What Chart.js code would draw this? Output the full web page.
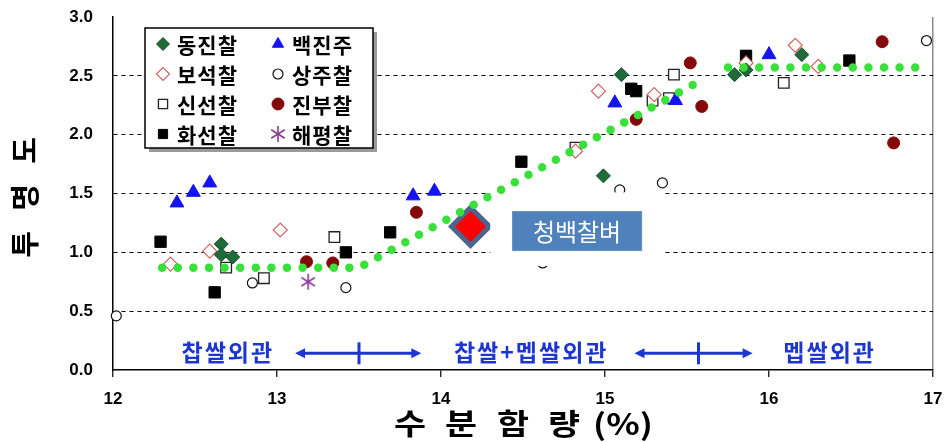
<!DOCTYPE html>
<html>
<head>
<meta charset="utf-8">
<script src="https://cdn.jsdelivr.net/npm/chart.js@4.4.1/dist/chart.umd.min.js"></script>
<style>
  html, body { margin: 0; padding: 0; background: #fff; }
  #wrap { width: 949px; height: 442px; }
</style>
</head>
<body>
<div id="wrap"><canvas id="chart" width="949" height="442"></canvas></div>
<script>
// axis ranges and ticks
const xMin = 12, xMax = 17;
const yMin = 0, yMax = 3;
const xStep = 1, yStep = 0.5;

const seriesNames = ['동진찰', '백진주', '보석찰', '상주찰', '신선찰', '진부찰', '화선찰', '해평찰'];

// values
const dongjinX = [12.66, 12.66, 12.73, 14.99, 15.10, 15.79, 15.86, 16.20];
const dongjinY = [1.07, 0.98, 0.96, 1.65, 2.51, 2.51, 2.55, 2.68];
const baekjinjuX = [12.39, 12.49, 12.59, 13.83, 13.96, 15.06, 15.43, 16.00];
const baekjinjuY = [1.42, 1.51, 1.59, 1.48, 1.52, 2.27, 2.29, 2.68];
const boseokX = [12.35, 12.59, 13.02, 14.82, 14.96, 15.30, 15.86, 16.16, 16.30];
const boseokY = [0.90, 1.01, 1.19, 1.86, 2.37, 2.34, 2.61, 2.76, 2.58];
const sangjuX = [12.02, 12.85, 13.42, 14.62, 15.09, 15.35, 16.96];
const sangjuY = [0.46, 0.74, 0.70, 0.91, 1.53, 1.59, 2.80];
const sinseonX = [12.69, 12.92, 13.35, 14.82, 15.29, 15.39, 15.42, 16.09];
const sinseonY = [0.87, 0.78, 1.13, 1.89, 2.29, 2.31, 2.51, 2.44];
const jinbuX = [13.18, 13.34, 13.85, 15.19, 15.52, 15.59, 16.69, 16.76];
const jinbuY = [0.92, 0.91, 1.34, 2.13, 2.61, 2.24, 2.79, 1.93];
const hwaseonX = [12.29, 12.62, 13.42, 13.69, 14.49, 15.16, 15.19, 15.86, 16.49];
const hwaseonY = [1.09, 0.66, 1.00, 1.17, 1.77, 2.39, 2.37, 2.67, 2.63];
const haepyeongX = [13.19];
const haepyeongY = [0.75];

// green trend (gap between the rising part and the plateau)
const trendX = [12.30, 13.50, 15.57, 15.66, 15.75, 16.92];
const trendY = [0.87, 0.87, 2.45, null, 2.57, 2.57];

const cheongbaekName = '청백찰벼';
const cheongbaekX = [14.18];
const cheongbaekY = [1.22];

const zoneNames = ['찹쌀외관', '찹쌀+멥쌀외관', '멥쌀외관'];
const zoneBounds = [13.50, 15.57];

const xTitle = ['수', '분', '함', '량', '(%)'];
const yTitle = ['투', '명', '도'];

function pts(xs, ys) {
  return xs.map((x, i) => ({ x: x, y: ys[i] }));
}

function asterisk(size, color) {
  const c = document.createElement('canvas');
  c.width = c.height = size;
  const g = c.getContext('2d');
  g.strokeStyle = color;
  g.lineWidth = 1.6;
  const m = size / 2, r = size / 2 - 1;
  [90, 32, 148].forEach(a => {
    const dx = Math.cos(a * Math.PI / 180) * r, dy = Math.sin(a * Math.PI / 180) * r;
    g.beginPath(); g.moveTo(m - dx, m - dy); g.lineTo(m + dx, m + dy); g.stroke();
  });
  return c;
}

const KR = '"Noto Sans CJK KR", "Noto Sans", sans-serif';
const NUM = '"Liberation Sans", Arial, sans-serif';
const BLUE = '#1d36d0';

const styles = [
  { pointStyle: 'rectRot', pointRadius: 7, backgroundColor: '#1f6b3a', borderColor: '#174f2b', pointBorderWidth: 1 },
  { pointStyle: 'triangle', pointRadius: 8, backgroundColor: '#1414f0', borderColor: '#1414f0', pointBorderWidth: 1 },
  { pointStyle: 'rectRot', pointRadius: 7, backgroundColor: '#fff', borderColor: '#d06464', pointBorderWidth: 1.2 },
  { pointStyle: 'circle', pointRadius: 5, backgroundColor: '#fff', borderColor: '#111', pointBorderWidth: 1.2 },
  { pointStyle: 'rect', pointRadius: 7.5, backgroundColor: '#fff', borderColor: '#222', pointBorderWidth: 1.3 },
  { pointStyle: 'circle', pointRadius: 6, backgroundColor: '#850808', borderColor: '#850808', pointBorderWidth: 1 },
  { pointStyle: 'rect', pointRadius: 8, backgroundColor: '#000', borderColor: '#000', pointBorderWidth: 1 },
  { pointStyle: asterisk(18, '#8a3a92'), pointRadius: 9, backgroundColor: '#8a3a92', borderColor: '#8a3a92', pointBorderWidth: 0 }
];

const seriesData = [
  pts(dongjinX, dongjinY), pts(baekjinjuX, baekjinjuY), pts(boseokX, boseokY), pts(sangjuX, sangjuY),
  pts(sinseonX, sinseonY), pts(jinbuX, jinbuY), pts(hwaseonX, hwaseonY), pts(haepyeongX, haepyeongY)
];

const datasets = seriesNames.map((name, i) => Object.assign({
  label: name,
  data: seriesData[i],
  showLine: false,
  clip: false
}, styles[i]));

datasets.push({
  label: cheongbaekName,
  data: pts(cheongbaekX, cheongbaekY),
  showLine: false,
  pointStyle: 'rectRot',
  pointRadius: 19,
  backgroundColor: '#ff0000',
  borderColor: '#4a6690',
  pointBorderWidth: 5,
  order: -1,
  clip: false
});

datasets.push({
  label: 'trend',
  data: pts(trendX, trendY),
  showLine: true,
  spanGaps: false,
  borderColor: '#3ae03a',
  borderWidth: 8.5,
  borderDash: [0, 15.6],
  borderCapStyle: 'round',
  pointRadius: 0,
  order: -2,
  clip: false
});

// white panel + blue label for 청백찰벼, drawn right after the big diamond
const calloutPlugin = {
  id: 'callout',
  afterDatasetDraw(chart, args) {
    if (chart.data.datasets[args.index].label !== cheongbaekName) return;
    const { ctx, scales: { x, y } } = chart;
    ctx.save();
    const wx0 = x.getPixelForValue(14.30), wx1 = x.getPixelForValue(15.35);
    const wy0 = y.getPixelForValue(1.51), wy1 = y.getPixelForValue(0.885);
    ctx.fillStyle = '#fff';
    ctx.fillRect(wx0, wy0, wx1 - wx0, wy1 - wy0);
    const bx0 = x.getPixelForValue(14.433), bx1 = x.getPixelForValue(15.226);
    const by0 = y.getPixelForValue(1.351), by1 = y.getPixelForValue(1.011);
    ctx.fillStyle = '#4f81bd';
    ctx.fillRect(bx0, by0, bx1 - bx0, by1 - by0);
    ctx.strokeStyle = '#6b95c9';
    ctx.lineWidth = 1;
    ctx.strokeRect(bx0 + 0.5, by0 + 0.5, bx1 - bx0 - 1, by1 - by0 - 1);
    ctx.fillStyle = '#fff';
    ctx.font = '24px ' + KR;
    ctx.textAlign = 'center';
    ctx.textBaseline = 'middle';
    ctx.fillText(cheongbaekName, (bx0 + bx1) / 2, (by0 + by1) / 2 + 1);
    ctx.restore();
  }
};

function arrowHead(ctx, x, y, dir) {
  ctx.beginPath();
  ctx.moveTo(x, y);
  ctx.lineTo(x - dir * 10, y - 5);
  ctx.lineTo(x - dir * 10, y + 5);
  ctx.closePath();
  ctx.fill();
}

const overlayPlugin = {
  id: 'overlay',
  afterDraw(chart) {
    const { ctx, chartArea, scales: { x, y } } = chart;
    ctx.save();

    // axis titles, spaced out like the original
    ctx.fillStyle = '#000';
    ctx.textAlign = 'center';
    ctx.textBaseline = 'middle';
    ctx.font = 'bold 29px ' + KR;
    const cx = (chartArea.left + chartArea.right) / 2;
    const xOffsets = [-113, -62, -10, 41, 100];
    xTitle.forEach((t, i) => {
      ctx.save();
      ctx.translate(cx + xOffsets[i], 424);
      ctx.scale(1.2, 1);
      ctx.fillText(t, 0, 0);
      ctx.restore();
    });
    const cy = (chartArea.top + chartArea.bottom) / 2 + 3;
    ctx.font = 'bold 29px ' + KR;
    yTitle.forEach((t, i) => {
      ctx.save();
      ctx.translate(25, cy + 48 - i * 47);
      ctx.rotate(-Math.PI / 2);
      ctx.fillText(t, 0, 0);
      ctx.restore();
    });

    // zone labels and arrows along the bottom
    const ty = y.getPixelForValue(0.15);
    ctx.fillStyle = BLUE;
    ctx.strokeStyle = BLUE;
    ctx.font = 'bold 23px ' + KR;
    if ('letterSpacing' in ctx) ctx.letterSpacing = '2px';
    const centers = [12.70, 14.55, 16.37];
    zoneNames.forEach((t, i) => ctx.fillText(t, x.getPixelForValue(centers[i]), ty));
    if ('letterSpacing' in ctx) ctx.letterSpacing = '0px';
    const spans = [[13.11, 13.88], [15.18, 15.90]];
    zoneBounds.forEach((b, i) => {
      const bx = x.getPixelForValue(b);
      const l = x.getPixelForValue(spans[i][0]);
      const r = x.getPixelForValue(spans[i][1]);
      const ay = ty + 1;
      ctx.lineWidth = 3;
      ctx.beginPath(); ctx.moveTo(l + 4, ay); ctx.lineTo(r - 4, ay); ctx.stroke();
      ctx.beginPath(); ctx.moveTo(bx, ay - 11); ctx.lineTo(bx, ay + 11); ctx.stroke();
      arrowHead(ctx, l, ay, -1);
      arrowHead(ctx, r, ay, 1);
    });

    // legend box, two columns
    const lx = chartArea.left + 32, ly = chartArea.top + 11, lw = 228, lh = 120;
    ctx.fillStyle = '#9a9a9a';
    ctx.fillRect(lx + 4, ly + 4, lw, lh);
    ctx.fillStyle = '#fff';
    ctx.fillRect(lx, ly, lw, lh);
    ctx.strokeStyle = '#000';
    ctx.lineWidth = 1.5;
    ctx.strokeRect(lx, ly, lw, lh);
    ctx.font = 'bold 21px ' + KR;
    if ('letterSpacing' in ctx) ctx.letterSpacing = '1px';
    ctx.textAlign = 'left';
    ctx.textBaseline = 'middle';
    seriesNames.forEach((name, i) => {
      const col = i % 2, row = Math.floor(i / 2);
      const mx = lx + 18 + col * 115, my = ly + 16 + row * 30;
      const s = styles[i];
      ctx.fillStyle = s.backgroundColor;
      ctx.strokeStyle = s.borderColor;
      ctx.lineWidth = s.pointBorderWidth;
      Chart.helpers.drawPoint(ctx, {
        pointStyle: s.pointStyle,
        radius: Math.min(s.pointRadius, 6.5),
        rotation: 0,
        borderWidth: s.pointBorderWidth
      }, mx, my);
      ctx.fillStyle = '#000';
      ctx.fillText(name, mx + 14, my + 1);
    });
    ctx.restore();
  }
};

new Chart(document.getElementById('chart'), {
  type: 'scatter',
  data: { datasets: datasets },
  options: {
    responsive: false,
    animation: false,
    devicePixelRatio: 1,
    layout: { autoPadding: false, padding: { left: 0, top: 17, right: 16, bottom: 0 } },
    plugins: { legend: { display: false }, tooltip: { enabled: false } },
    scales: {
      x: {
        type: 'linear',
        min: xMin, max: xMax,
        afterFit: s => { s.height = 72; s.paddingLeft = 0; s.paddingRight = 0; },
        ticks: {
          stepSize: xStep,
          color: '#000',
          padding: 12,
          font: { family: NUM, size: 17, weight: 'bold' }
        },
        grid: {
          color: c => (c.tick && c.tick.value === xMax ? '#8c8c8c' : 'rgba(0,0,0,0)'),
          lineWidth: 1.5,
          tickColor: '#000',
          tickLength: 7,
          tickWidth: 1.2
        },
        border: { display: true, color: '#000', width: 1.5 }
      },
      y: {
        min: yMin, max: yMax,
        afterFit: s => { s.width = 113; s.paddingTop = 0; s.paddingBottom = 0; },
        ticks: {
          stepSize: yStep,
          color: '#000',
          padding: 20,
          font: { family: NUM, size: 17, weight: 'bold' },
          callback: v => v.toFixed(1)
        },
        grid: {
          drawTicks: false,
          color: c => (c.tick && c.tick.value > yMin && c.tick.value < yMax ? '#000' : 'rgba(0,0,0,0)'),
          lineWidth: 1
        },
        border: { display: true, color: '#000', width: 1.5, dash: [4, 4] }
      }
    }
  },
  plugins: [calloutPlugin, overlayPlugin]
});
</script>
</body>
</html>
